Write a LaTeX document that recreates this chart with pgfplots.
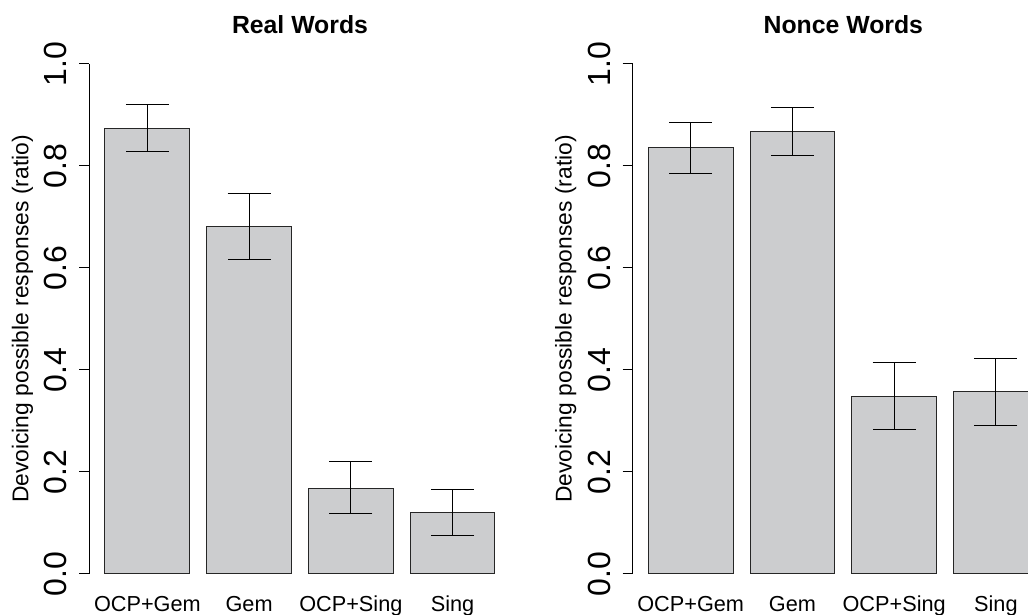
\documentclass[border=0pt]{standalone}
\usepackage{pgfplots}
\usepackage{pgfplotstable}
\pgfplotsset{compat=1.18}
\usepackage{fontspec}
\setmainfont{Liberation Sans}

\definecolor{barfill}{RGB}{204,205,207}

% bar centres follow R's barplot: width 1, space 0.2
\pgfplotstableread{
x   y     ep    em
0.7 0.874 0.046 0.046
1.9 0.681 0.065 0.064
3.1 0.168 0.052 0.050
4.3 0.121 0.044 0.045
}\realwords

\pgfplotstableread{
x   y     ep    em
0.7 0.836 0.050 0.051
1.9 0.867 0.047 0.046
3.1 0.349 0.065 0.065
4.3 0.357 0.065 0.066
}\noncewords

\pgfplotsset{
  rpanel/.style={
    scale only axis,
    width=210.6pt, height=255pt,
    anchor=south west,
    xmin=0.016, xmax=4.984,
    ymin=0, ymax=1,
    axis lines*=left,
    x axis line style={draw=none},
    axis line style={line width=0.5pt, black},
    tick align=outside,
    major tick length=5pt,
    ytick={0,0.2,0.4,0.6,0.8,1},
    ytick style={line width=0.5pt, black},
    xtick={0.7,1.9,3.1,4.3},
    xticklabels={OCP+Gem, Gem, OCP+Sing, Sing},
    xtick style={draw=none},
    /pgf/number format/assume math mode=true,
    yticklabel style={/pgf/number format/fixed, /pgf/number format/precision=1,
      /pgf/number format/fixed zerofill,
      xshift=-6.35pt, rotate=90, anchor=base, inner sep=0pt,
      font=\fontsize{16}{18}\selectfont},
    xticklabel style={anchor=base, yshift=-13.85pt, inner sep=0pt,
      font=\fontsize{10.85}{13}\selectfont},
    every axis y label/.style={at={(axis description cs:0,0.5)}, xshift=-30.5pt,
      rotate=90, anchor=base, inner sep=0pt, font=\fontsize{11.4}{13}\selectfont},
    every axis title/.style={at={(axis description cs:0.5,1)}, anchor=base,
      yshift=15.35pt, inner sep=0pt, font=\bfseries\fontsize{12.4}{14}\selectfont},
    ylabel={Devoicing possible responses (ratio)},
    ybar, bar width=1,
  },
  rbars/.style={fill=barfill, draw=black!85, line width=0.5pt,
    error bars/.cd, y dir=both, y explicit,
    error mark options={rotate=90, mark size=10.75pt, line width=0.5pt, black},
    error bar style={line width=0.5pt, black}},
}

\begin{document}
\begin{tikzpicture}
\useasboundingbox (0,0) rectangle (514pt,307.5pt);
\clip (0,0) rectangle (514pt,307.5pt);

\begin{axis}[rpanel, at={(44.7pt,20.5pt)}, title={Real Words}]
  \addplot[rbars] table[x=x, y=y, y error plus=ep, y error minus=em] {\realwords};
\end{axis}

\begin{axis}[rpanel, at={(316.35pt,20.5pt)}, title={Nonce Words}]
  \addplot[rbars] table[x=x, y=y, y error plus=ep, y error minus=em] {\noncewords};
\end{axis}
\end{tikzpicture}
\end{document}
